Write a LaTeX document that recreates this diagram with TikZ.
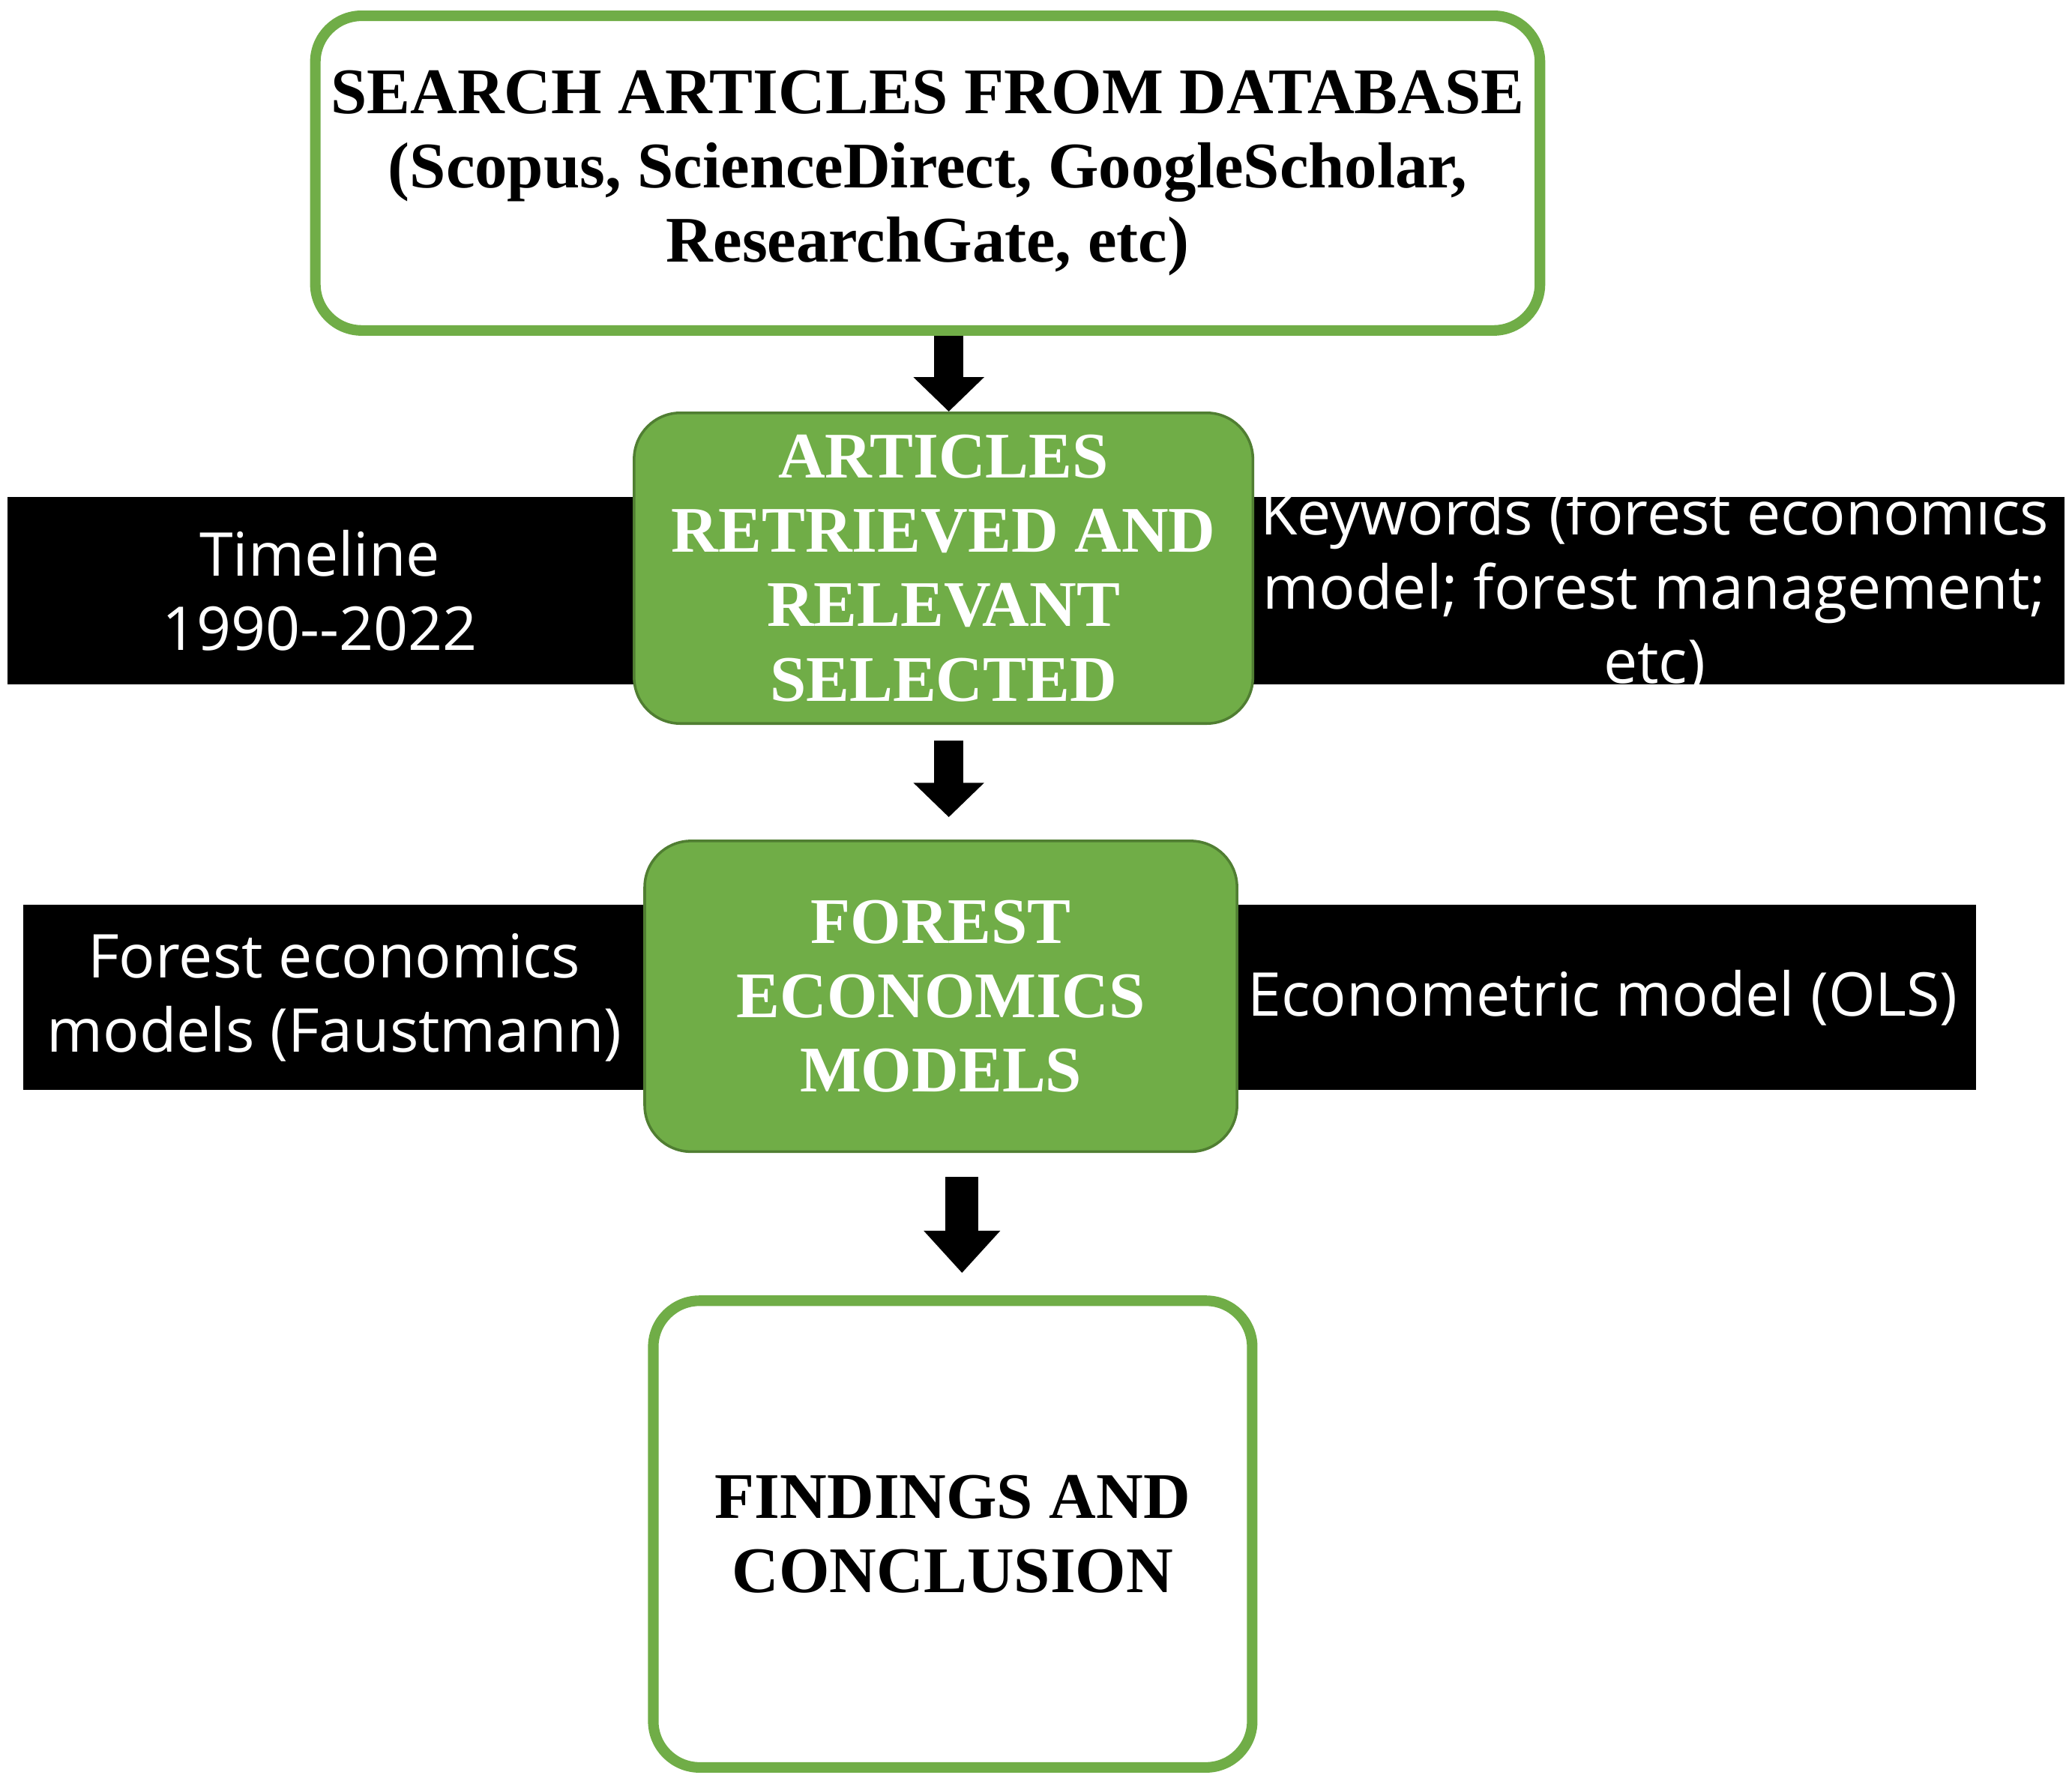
\documentclass[tikz,border=0pt]{standalone}
\usepackage{fontspec}
\setmainfont{Liberation Serif}
\newfontfamily\bandfont{Open Sans}
\usetikzlibrary{arrows.meta,positioning}
\definecolor{leaf}{HTML}{70AD47}
\definecolor{leafdark}{HTML}{507E32}
\tikzset{
    every picture/.style={x=0.01cm,y=-0.01cm},
    outline/.style={draw=leaf,line width=0.08cm,fill=white,rounded corners=0.35cm,align=center,
        font=\fontsize{14}{16}\selectfont\bfseries},
    stage/.style={draw=leafdark,line width=0.02cm,fill=leaf,rounded corners=0.35cm,align=center,
        text=white,font=\fontsize{14}{16}\selectfont\bfseries,minimum width=4.6cm,minimum height=2.35cm},
    band/.style={fill=black,inner sep=0pt},
    bandtext/.style={text=white,align=center,font=\bandfont\fontsize{13}{16}\selectfont},
    blk/.style={line width=0.22cm,-{Triangle[width=0.52cm,length=0.26cm]}}
}
\begin{document}
\begin{tikzpicture}
    \useasboundingbox (0,0) rectangle (1568,1350);
    % side bands
    \node[band,minimum width=15.56cm,minimum height=1.42cm] (bandA) at (784,447) {};
    \node[band,minimum width=14.77cm,minimum height=1.40cm] (bandB) at (756.5,755) {};
    \node[bandtext] (timeline) at (242,447) {Timeline\\1990--2022};
    \node[bandtext] (keywords) at (1252,447) {Keywords (forest economics\\model; forest management;\\etc)};
    \node[bandtext] (faust) at (253,755) {Forest economics\\models (Faustmann)};
    \node[bandtext] (ols) at (1213,755) {Econometric model (OLS)};
    % steps
    \node[outline,minimum width=9.15cm,minimum height=2.38cm] (search) at (702,131)
        {SEARCH ARTICLES FROM DATABASE\\(Scopus, ScienceDirect, GoogleScholar,\\ResearchGate, etc)};
    \node[stage,minimum width=4.68cm] (retrieved) at (714,430)
        {ARTICLES\\RETRIEVED AND\\RELEVANT\\SELECTED};
    \node[stage,minimum width=4.48cm] (models) at (712,754)
        {FOREST\\ECONOMICS\\MODELS};
    \node[outline,minimum width=4.53cm,minimum height=3.53cm] (findings) at (721,1161)
        {FINDINGS AND\\CONCLUSION};
    % arrows
    \draw[blk] (search.south -| retrieved.north) ++(4,0) coordinate (a1) -- (a1 |- retrieved.north);
    \draw[blk,shorten <=0.12cm,shorten >=0.17cm] (retrieved.south) ++(4,0) coordinate (a2) -- (a2 |- models.north);
    \draw[blk,line width=0.25cm,-{Triangle[width=0.56cm,length=0.32cm]},shorten <=0.18cm,shorten >=0.17cm]
        (models.south) ++(16,0) coordinate (a3) -- (a3 |- findings.north);
\end{tikzpicture}
\end{document}
